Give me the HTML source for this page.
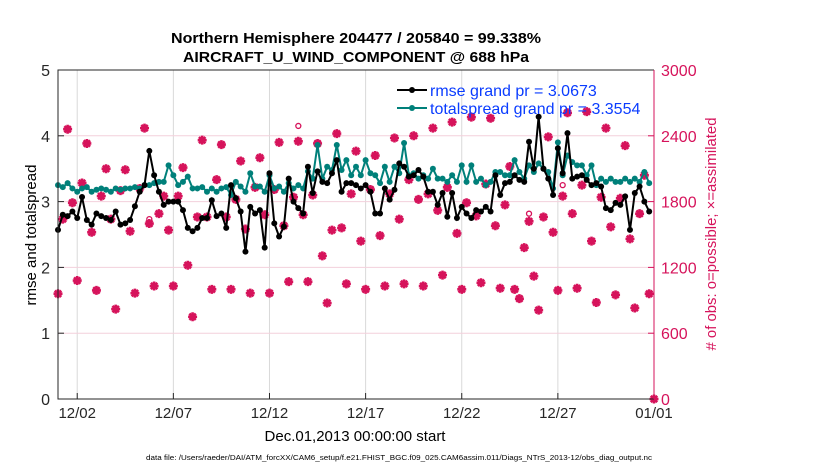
<!DOCTYPE html>
<html><head><meta charset="utf-8"><style>
body{margin:0;background:#fff}
svg{display:block;font-family:"Liberation Sans",Arial,sans-serif}
</style></head><body>
<svg id="chart" width="830" height="470" viewBox="0 0 830 470" xmlns="http://www.w3.org/2000/svg">
<rect width="830" height="470" fill="#fff"/>
<g id="grid"></g>
<g id="marks"></g>
<g id="axes"></g>
<text x="356" y="43" font-size="15" font-weight="bold" text-anchor="middle" textLength="370" lengthAdjust="spacingAndGlyphs">Northern Hemisphere 204477 / 205840 = 99.338%</text>
<text x="356" y="62" font-size="15" font-weight="bold" text-anchor="middle" textLength="346" lengthAdjust="spacingAndGlyphs">AIRCRAFT_U_WIND_COMPONENT @ 688 hPa</text>
<text transform="translate(36,235) rotate(-90)" font-size="15" text-anchor="middle">rmse and totalspread</text>
<text transform="translate(716,234) rotate(-90)" font-size="15" text-anchor="middle" fill="#d6135b" textLength="233" lengthAdjust="spacingAndGlyphs"># of obs: o=possible; ×=assimilated</text>
<text x="355" y="441" font-size="15" text-anchor="middle">Dec.01,2013 00:00:00 start</text>
<text x="399" y="460" font-size="7" text-anchor="middle" textLength="506" lengthAdjust="spacingAndGlyphs">data file: /Users/raeder/DAI/ATM_forcXX/CAM6_setup/f.e21.FHIST_BGC.f09_025.CAM6assim.011/Diags_NTrS_2013-12/obs_diag_output.nc</text>
<g>
<line x1="397" y1="90" x2="427" y2="90" stroke="#000" stroke-width="2"/><circle cx="412" cy="90" r="3" fill="#000"/>
<text x="430" y="96" font-size="16" fill="#0a3cff">rmse grand pr = 3.0673</text>
<line x1="397" y1="108" x2="427" y2="108" stroke="#00807a" stroke-width="2"/><circle cx="412" cy="108" r="3" fill="#00807a"/>
<text x="430" y="114" font-size="16" fill="#0a3cff">totalspread grand pr = 3.3554</text>
</g>
</svg>
<script>
const rmse=[2.57,2.8,2.78,2.85,2.75,3.07,2.72,2.65,2.82,2.78,2.75,2.72,2.85,2.65,2.67,2.72,2.93,3.15,3.25,3.77,3.4,3.15,2.95,3.0,3.0,3.0,2.87,2.6,2.55,2.6,2.75,2.75,3.02,2.78,2.82,2.6,3.25,3.05,2.85,2.24,2.92,2.82,
2.87,2.3,3.43,2.67,2.47,2.62,3.35,3.0,2.9,2.82,3.53,3.13,3.46,3.3,3.28,3.43,3.63,3.15,3.28,3.28,3.25,3.2,3.25,3.15,2.82,2.82,3.2,3.03,3.18,3.58,3.53,3.38,3.4,3.48,3.38,3.15,3.15,2.95,
3.13,2.77,3.13,2.75,2.92,2.82,2.75,2.87,2.85,2.92,2.85,3.4,3.1,3.28,3.3,3.4,3.33,3.3,3.91,3.5,4.29,3.5,3.35,3.1,3.81,3.43,4.04,3.35,3.38,3.4,3.33,3.25,3.28,3.23,2.9,2.87,2.98,2.95,3.08,2.57,3.13,3.23,3.0,2.85];
const spread=[3.25,3.22,3.28,3.2,3.15,3.2,3.22,3.15,3.18,3.2,3.18,3.15,3.2,3.18,3.2,3.2,3.22,3.2,3.25,3.25,3.28,3.3,3.3,3.55,3.4,3.25,3.3,3.38,3.2,3.2,3.22,3.15,3.2,3.15,3.2,3.22,3.1,3.3,3.23,3.15,3.43,3.23,
3.23,3.15,3.4,3.2,3.23,3.15,3.28,3.2,3.25,3.2,3.46,3.35,3.86,3.35,3.53,3.48,3.86,3.48,3.63,3.4,3.53,3.4,3.63,3.43,3.4,3.28,3.53,3.3,3.53,3.43,3.89,3.4,3.43,3.35,3.4,3.35,3.5,3.35,
3.35,3.3,3.4,3.3,3.55,3.3,3.55,3.3,3.35,3.25,3.3,3.45,3.45,3.4,3.4,3.63,3.45,3.35,3.55,3.45,3.58,3.5,3.45,3.2,3.9,3.4,3.7,3.6,3.55,3.55,3.4,3.55,3.25,3.35,3.3,3.35,3.3,3.3,3.35,3.3,3.35,3.3,3.45,3.28];
const assimilated=[960,1640,2460,1790,1080,1970,2330,1520,990,1850,2100,1640,820,1900,2090,1530,965,1920,2470,1600,1030,1690,1850,1540,1030,1850,2110,1220,750,1660,2360,1660,1000,2000,2320,1660,1000,1820,
2170,1550,965,1930,2200,1680,965,1910,2340,1580,1070,1840,2350,1680,1070,1860,2330,1305,875,1540,2420,1560,1050,1870,2260,1440,1000,1910,2220,1490,1030,1870,2380,1640,1050,2000,2400,1820,1030,1870,2470,1720,
1130,1930,2525,1510,1000,1790,2570,1670,1060,1960,2560,1580,1010,1770,2120,1000,915,1380,1620,1120,810,1660,2390,1520,990,1850,2610,1690,1010,1950,2620,1440,880,1840,2470,1570,950,1830,2310,1460,830,1690,2040,960,0];
const possible=assimilated.slice();
possible[50]=2490; possible[105]=1950; possible[19]=1640; possible[98]=1690;
const xTickLabels=["12/02","12/07","12/12","12/17","12/22","12/27","01/01"];
const xTickDays=[1,6,11,16,21,26,31];
const yTicks=[0,1,2,3,4,5];
const y2Ticks=[0,600,1200,1800,2400,3000];

const L=58,R=654,T=70,B=399;
const xs=d=>L+d*(R-L)/31;
const ys=v=>B-v*(B-T)/5;
const y2=v=>B-v*(B-T)/3000;
const NS="http://www.w3.org/2000/svg";
function mk(tag,attrs,parent){const e=document.createElementNS(NS,tag);for(const k in attrs)e.setAttribute(k,attrs[k]);parent.appendChild(e);return e;}
const grid=document.getElementById('grid'),marks=document.getElementById('marks'),axes=document.getElementById('axes');
const dayOf=i=>i*0.25;

xTickDays.forEach((d,k)=>{
  const l=mk('line',{x1:xs(d),x2:xs(d),y1:T,y2:B,stroke:'#d9d9d9','stroke-width':1},grid);
  
  
  const t=mk('line',{x1:xs(d),x2:xs(d),y1:B,y2:B-6,stroke:'#262626','stroke-width':1},axes);
  
  
  const tx=mk('text',{x:xs(d),y:418,'font-size':15,'text-anchor':'middle',fill:'#262626'},axes);
  tx.textContent=xTickLabels[k];
  
  
});
y2Ticks.forEach(v=>{
  if(v>0&&v<3000){const g=mk('line',{x1:L,x2:R,y1:y2(v),y2:y2(v),stroke:'#f3d0dc','stroke-width':1},grid);
  
  }
  const t=mk('line',{x1:R,x2:R-6,y1:y2(v),y2:y2(v),stroke:'#d6135b'},axes);
  
  
  const tx=mk('text',{x:R+7,y:y2(v)+6,'font-size':16,fill:'#d6135b'},axes);
  tx.textContent=v;
  
  
});
yTicks.forEach(v=>{
  const t=mk('line',{x1:L,x2:L+6,y1:ys(v),y2:ys(v),stroke:'#262626'},axes);
  
  
  const tx=mk('text',{x:L-8,y:ys(v)+6,'font-size':16,'text-anchor':'end',fill:'#262626'},axes);
  tx.textContent=v;
  
  
});
const fr=mk('path',{d:`M${R},${T}H${L}V${B}H${R}`,fill:'none',stroke:'#262626','stroke-width':1},axes);


const ra=mk('line',{x1:R,x2:R,y1:T,y2:B,stroke:'#d6135b','stroke-width':1},axes);



const red='#d6135b';
possible.forEach((v,i)=>{
  const c=mk('circle',{cx:xs(dayOf(i)),cy:y2(v),r:2.5,fill:'none',stroke:red,'stroke-width':1.3},marks);
  
  
});
assimilated.forEach((v,i)=>{
  const x=xs(dayOf(i)),y=y2(v);
  const p=mk('path',{d:`M${x-4.5},${y}H${x+4.5}M${x},${y-4.5}V${y+4.5}M${x-3.2},${y-3.2}L${x+3.2},${y+3.2}M${x-3.2},${y+3.2}L${x+3.2},${y-3.2}`,stroke:red,'stroke-width':2.6,fill:'none'},marks);
  
  
});
function series(arr,color,name){
  const d=arr.map((v,i)=>(i?'L':'M')+xs(dayOf(i)).toFixed(1)+','+ys(v).toFixed(1)).join('');
  const p=mk('path',{d:d,fill:'none',stroke:color,'stroke-width':2},marks);
  
  
  arr.forEach((v,i)=>{
    const c=mk('circle',{cx:xs(dayOf(i)),cy:ys(v),r:3,fill:color},marks);
    
    
  });
}
series(spread,'#00807a','totalspread');
series(rmse,'#000','rmse');
</script>
</body></html>
